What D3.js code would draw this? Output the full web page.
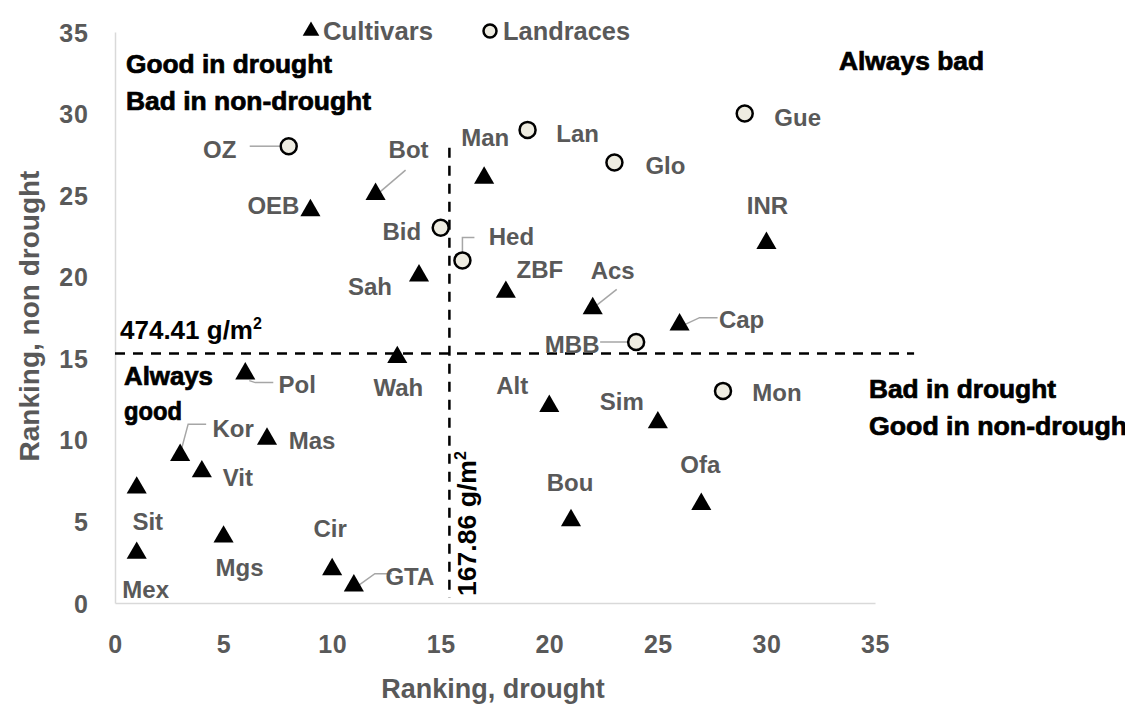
<!DOCTYPE html>
<html>
<head>
<meta charset="utf-8">
<script src="https://cdn.jsdelivr.net/npm/d3@7/dist/d3.min.js"></script>
<style>
  html, body { margin: 0; padding: 0; background: #fff; overflow: hidden; }
  svg { display: block; }
  text { font-family: "Liberation Sans", Arial, sans-serif; }
</style>
</head>
<body>
<svg id="chart" width="1125" height="706"></svg>
<script>
// Cultivars: name, ranking under drought, ranking under non-drought
const cultivarNames   = ["OEB","Bot","Man","Sah","ZBF","Acs","Cap","INR","Wah","Pol","Alt","Sim","Kor","Mas","Vit","Sit","Ofa","Bou","Mgs","Mex","Cir","GTA"];
const cultivarDrought = [9, 12, 17, 14, 18, 22, 26, 30, 13, 6, 20, 25, 3, 7, 4, 1, 27, 21, 5, 1, 10, 11];
const cultivarNonDrought = [24, 25, 26, 20, 19, 18, 17, 22, 15, 14, 12, 11, 9, 10, 8, 7, 6, 5, 4, 3, 2, 1];

// Landraces
const landraceNames   = ["OZ","Bid","Hed","Lan","Glo","Gue","MBB","Mon"];
const landraceDrought = [8, 15, 16, 19, 23, 29, 24, 28];
const landraceNonDrought = [28, 23, 21, 29, 27, 30, 16, 13];

// Threshold lines (mean yields expressed on the ranking scale)
const droughtThreshold = 15.4;     // 167.86 g/m2
const nonDroughtThreshold = 15.3;  // 474.41 g/m2
const droughtThresholdLabel = "167.86 g/m";
const nonDroughtThresholdLabel = "474.41 g/m";

const xTicks = [0, 5, 10, 15, 20, 25, 30, 35];
const yTicks = [0, 5, 10, 15, 20, 25, 30, 35];
const xTitle = "Ranking, drought";
const yTitle = "Ranking, non drought";
const seriesNames = ["Cultivars", "Landraces"];

// Label placement (pixel offsets from the marker) and optional leader lines
const labelLayout = {
  OEB: {dx: -37, dy: -6}, Bot: {dx: 33, dy: -46, lead: [[30,-25],[3,-2]]},
  Man: {dx: 1, dy: -41}, Sah: {dx: -49, dy: 10}, ZBF: {dx: 34, dy: -23},
  Acs: {dx: 20, dy: -39, lead: [[24,-20],[0,-1]]},
  Cap: {dx: 62, dy: -6, lead: [[38,-8],[20,-8],[3,0]]},
  INR: {dx: 1, dy: -38}, Wah: {dx: 1, dy: 29},
  Pol: {dx: 52, dy: 10, lead: [[4,6],[10,8],[28,8]]},
  Alt: {dx: -37, dy: -22}, Sim: {dx: -36, dy: -22},
  Kor: {dx: 53, dy: -28, lead: [[26,-32],[8,-32],[0,-2]]},
  Mas: {dx: 45, dy: 1}, Vit: {dx: 36, dy: 5}, Sit: {dx: 11, dy: 33},
  Ofa: {dx: -1, dy: -41}, Bou: {dx: -1, dy: -39}, Mgs: {dx: 16, dy: 30},
  Mex: {dx: 9, dy: 36}, Cir: {dx: -2, dy: -42},
  GTA: {dx: 56, dy: -10, lead: [[38,-13],[21,-13],[3,0]]},
  OZ: {dx: -69, dy: 3, lead: [[-39,0],[-9,0]]}, Bid: {dx: -39, dy: 4},
  Hed: {dx: 49, dy: -24, lead: [[0,0],[0,-23],[12,-23]]},
  Lan: {dx: 50, dy: 4}, Glo: {dx: 51, dy: 3}, Gue: {dx: 53, dy: 4},
  MBB: {dx: -64, dy: 3, lead: [[-36,0],[-4,0]]}, Mon: {dx: 54, dy: 2}
};

const svg = d3.select("#chart");
const x = d3.scaleLinear().domain([0, 35]).range([115, 875]);
const y = d3.scaleLinear().domain([0, 35]).range([603, 32]);

const gray = "#595959";
const axisGray = "#d9d9d9";

// Axes (lines only, no tick marks)
const xAxis = svg.append("g").attr("transform", `translate(0,${y(0)})`)
  .call(d3.axisBottom(x).tickValues(xTicks).tickSize(0).tickPadding(0).tickFormat(d3.format("d")));
xAxis.select(".domain").attr("stroke", axisGray).attr("stroke-width", 1.5);
xAxis.selectAll("text").attr("fill", gray).attr("font-size", 25).attr("font-weight", "bold")
  .attr("font-family", "Liberation Sans, sans-serif").attr("letter-spacing", 0.5)
  .attr("dy", 0).attr("y", 50);

const yAxis = svg.append("g").attr("transform", `translate(${x(0)},0)`)
  .call(d3.axisLeft(y).tickValues(yTicks).tickSize(0).tickPadding(0).tickFormat(d3.format("d")));
yAxis.select(".domain").attr("stroke", axisGray).attr("stroke-width", 1.5);
yAxis.selectAll("text").attr("fill", gray).attr("font-size", 25).attr("font-weight", "bold")
  .attr("font-family", "Liberation Sans, sans-serif").attr("letter-spacing", 1)
  .attr("x", -26).attr("dy", "0.36em");

// Axis titles
svg.append("text").attr("x", 493).attr("y", 698).attr("text-anchor", "middle")
  .attr("fill", gray).attr("font-size", 27).attr("font-weight", "bold").text(xTitle);
svg.append("text").attr("transform", `translate(39,316) rotate(-90)`).attr("text-anchor", "middle")
  .attr("fill", gray).attr("font-size", 28).attr("font-weight", "bold").text(yTitle);

// Threshold lines
svg.append("line")
  .attr("x1", x(0)).attr("x2", x(36.8))
  .attr("y1", y(nonDroughtThreshold)).attr("y2", y(nonDroughtThreshold))
  .attr("stroke", "#000").attr("stroke-width", 2.5).attr("stroke-dasharray", "10,8");
svg.append("line")
  .attr("x1", x(droughtThreshold)).attr("x2", x(droughtThreshold))
  .attr("y1", y(27.9)).attr("y2", y(0.3))
  .attr("stroke", "#000").attr("stroke-width", 2.5).attr("stroke-dasharray", "10,8");

const thrH = svg.append("text").attr("x", 120).attr("y", y(nonDroughtThreshold) - 14)
  .attr("fill", "#000").attr("font-size", 26).attr("font-weight", "bold");
thrH.append("tspan").text(nonDroughtThresholdLabel);
thrH.append("tspan").attr("dy", -10).attr("font-size", 16).text("2");

const thrV = svg.append("text")
  .attr("transform", `translate(${x(droughtThreshold) + 27},596) rotate(-90)`)
  .attr("fill", "#000").attr("font-size", 26).attr("font-weight", "bold");
thrV.append("tspan").attr("textLength", 136).attr("lengthAdjust", "spacingAndGlyphs")
  .text(droughtThresholdLabel);
thrV.append("tspan").attr("dy", -10).attr("font-size", 16).text("2");

// Quadrant captions (heavy black text)
const captions = [
  {t: "Good in drought", x: 126, y: 73, w: 206},
  {t: "Bad in non-drought", x: 126, y: 110, w: 245},
  {t: "Always bad", x: 839, y: 70, w: 145},
  {t: "Always", x: 124, y: 385, w: 89},
  {t: "good", x: 124, y: 420, w: 58},
  {t: "Bad in drought", x: 869, y: 398, w: 187},
  {t: "Good in non-drough", x: 869, y: 435, w: 258}
];
svg.selectAll("text.caption").data(captions).join("text").attr("class", "caption")
  .attr("x", d => d.x).attr("y", d => d.y)
  .attr("textLength", d => d.w).attr("lengthAdjust", "spacingAndGlyphs")
  .attr("fill", "#000").attr("stroke", "#000").attr("stroke-width", 0.7)
  .attr("font-size", 25).attr("font-weight", "bold").text(d => d.t);

// Build point records
const cultivars = cultivarNames.map((n, i) => ({name: n, d: cultivarDrought[i], nd: cultivarNonDrought[i]}));
const landraces = landraceNames.map((n, i) => ({name: n, d: landraceDrought[i], nd: landraceNonDrought[i]}));
const allPts = cultivars.concat(landraces);

// Leader lines
const lineGen = d3.line();
svg.append("g").selectAll("path").data(allPts.filter(p => labelLayout[p.name].lead)).join("path")
  .attr("d", p => lineGen(labelLayout[p.name].lead.map(([dx, dy]) => [x(p.d) + dx, y(p.nd) + dy])))
  .attr("fill", "none").attr("stroke", "#a6a6a6").attr("stroke-width", 1.5);

// Markers
const tri = d3.symbol().type(d3.symbolTriangle).size(175);
svg.append("g").selectAll("path").data(cultivars).join("path")
  .attr("d", tri).attr("transform", p => `translate(${x(p.d)},${y(p.nd) - 1})`)
  .attr("fill", "#000");
svg.append("g").selectAll("circle").data(landraces).join("circle")
  .attr("cx", p => x(p.d)).attr("cy", p => y(p.nd)).attr("r", 8)
  .attr("fill", "#eeece1").attr("stroke", "#000").attr("stroke-width", 2.5);

// Point labels
svg.append("g").selectAll("text").data(allPts).join("text")
  .attr("x", p => x(p.d) + labelLayout[p.name].dx)
  .attr("y", p => y(p.nd) + labelLayout[p.name].dy)
  .attr("text-anchor", "middle").attr("dy", "0.35em")
  .attr("fill", gray).attr("font-size", 24).attr("font-weight", "bold")
  .text(p => p.name);

// Legend
const legend = svg.append("g");
legend.append("path").attr("d", d3.symbol().type(d3.symbolTriangle).size(120))
  .attr("transform", "translate(311,31)").attr("fill", "#000");
legend.append("text").attr("x", 323).attr("y", 31).attr("dy", "0.35em")
  .attr("textLength", 110).attr("lengthAdjust", "spacingAndGlyphs")
  .attr("fill", gray).attr("font-size", 25).attr("font-weight", "bold").text(seriesNames[0]);
legend.append("circle").attr("cx", 490).attr("cy", 31).attr("r", 6.5)
  .attr("fill", "#eeece1").attr("stroke", "#000").attr("stroke-width", 2.5);
legend.append("text").attr("x", 503).attr("y", 31).attr("dy", "0.35em")
  .attr("textLength", 127).attr("lengthAdjust", "spacingAndGlyphs")
  .attr("fill", gray).attr("font-size", 25).attr("font-weight", "bold").text(seriesNames[1]);
</script>
</body>
</html>
